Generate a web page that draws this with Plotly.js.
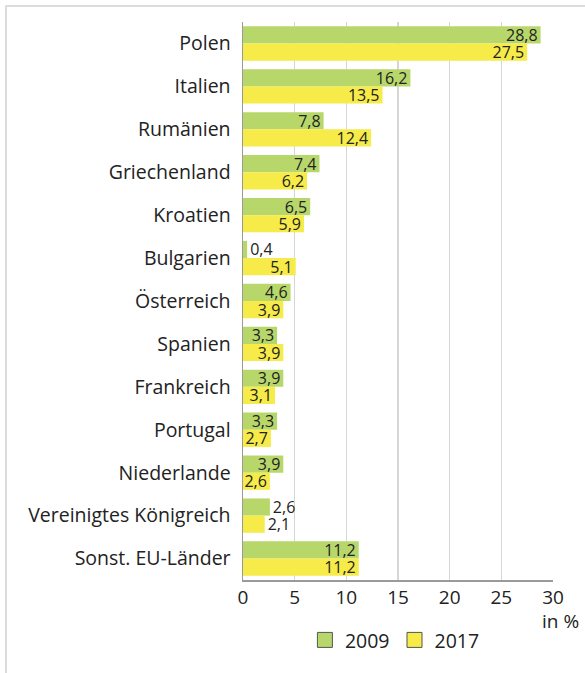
<!DOCTYPE html>
<html>
<head>
<meta charset="utf-8">
<script src="https://cdn.plot.ly/plotly-3.0.1.min.js"></script>
<style>
html,body{margin:0;padding:0;background:#fff;}
#chart{position:absolute;left:0;top:0;width:585px;height:673px;}
#frame{position:absolute;left:5px;top:5px;right:0;bottom:0;border-left:2px solid #dcdcdc;border-top:2px solid #dcdcdc;pointer-events:none;}
</style>
</head>
<body>
<div id="chart"></div>
<div id="frame"></div>
<script>
const categories = ["Polen","Italien","Rumänien","Griechenland","Kroatien","Bulgarien","Österreich","Spanien","Frankreich","Portugal","Niederlande","Vereinigtes Königreich","Sonst. EU-Länder"];
const values2009 = [28.8,16.2,7.8,7.4,6.5,0.4,4.6,3.3,3.9,3.3,3.9,2.6,11.2];
const values2017 = [27.5,13.5,12.4,6.2,5.9,5.1,3.9,3.9,3.1,2.7,2.6,2.1,11.2];
const seriesNames = ["2009","2017"];
const tickVals = [0,5,10,15,20,25,30];

const green = "#b7d76b";
const yellow = "#f6eb48";
const fmt = v => v.toFixed(1).replace(".", ",");
const pos = (arr, limit) => arr.map(v => v < limit ? "outside" : "inside");

const font = "'Open Sans', 'Noto Sans', sans-serif";
const valSize = 16;

function barTrace(vals, name, color, limit){
  return {
    type: "bar", orientation: "h", name: name,
    x: vals, y: categories,
    marker: {color: color, line: {width: 0}},
    text: vals.map(fmt),
    textposition: pos(vals, limit),
    insidetextanchor: "end",
    constraintext: "none",
    cliponaxis: false,
    textfont: {family: font, size: valSize, color: "#222"},
    insidetextfont: {family: font, size: valSize, color: "#222"},
    outsidetextfont: {family: font, size: valSize, color: "#222"},
    showlegend: false,
    hoverinfo: "x+y"
  };
}
function legendTrace(name, color){
  return {
    type: "scatter", mode: "markers", name: name,
    x: [null], y: [null],
    marker: {symbol: "square", size: 15, color: color, line: {color: "#555", width: 1}},
    showlegend: true
  };
}

const data = [
  barTrace(values2009, seriesNames[0], green, 2.7),
  barTrace(values2017, seriesNames[1], yellow, 2.2),
  legendTrace(seriesNames[0], green),
  legendTrace(seriesNames[1], yellow)
];

const layout = {
  width: 585, height: 673,
  margin: {l: 243, r: 32, t: 22, b: 93},
  paper_bgcolor: "#fff", plot_bgcolor: "#fff",
  barmode: "group", bargap: 0.2, bargroupgap: 0,
  font: {family: font, color: "#222", size: 17},
  xaxis: {
    range: [0, 30], tickvals: tickVals, ticktext: tickVals.map(String),
    showgrid: true, gridcolor: "#d6d6d6", gridwidth: 1.5,
    zeroline: false, showline: true, linecolor: "#9a9a9a", linewidth: 1.5,
    ticks: "",
    tickfont: {family: font, size: 19, color: "#222"}, fixedrange: true
  },
  yaxis: {
    type: "category", autorange: "reversed",
    showline: true, linecolor: "#9a9a9a", linewidth: 1.5,
    showgrid: false, zeroline: false, ticks: "", ticklen: 0, ticklabelstandoff: 7,
    tickfont: {family: font, size: 19.5, color: "#222"}, fixedrange: true
  },
  legend: {
    orientation: "h", x: 0.49, xanchor: "center", y: -0.073, yanchor: "top",
    font: {family: font, size: 19.5, color: "#222"},
    itemwidth: 30, tracegroupgap: 0, bgcolor: "rgba(0,0,0,0)"
  },
  annotations: [{
    text: "in %", xref: "paper", yref: "paper", x: 1.09, xanchor: "right",
    y: -0.047, yanchor: "top", showarrow: false,
    font: {family: font, size: 19, color: "#222"}
  }]
};

Plotly.newPlot("chart", data, layout, {displayModeBar: false, staticPlot: true});
</script>
</body>
</html>
